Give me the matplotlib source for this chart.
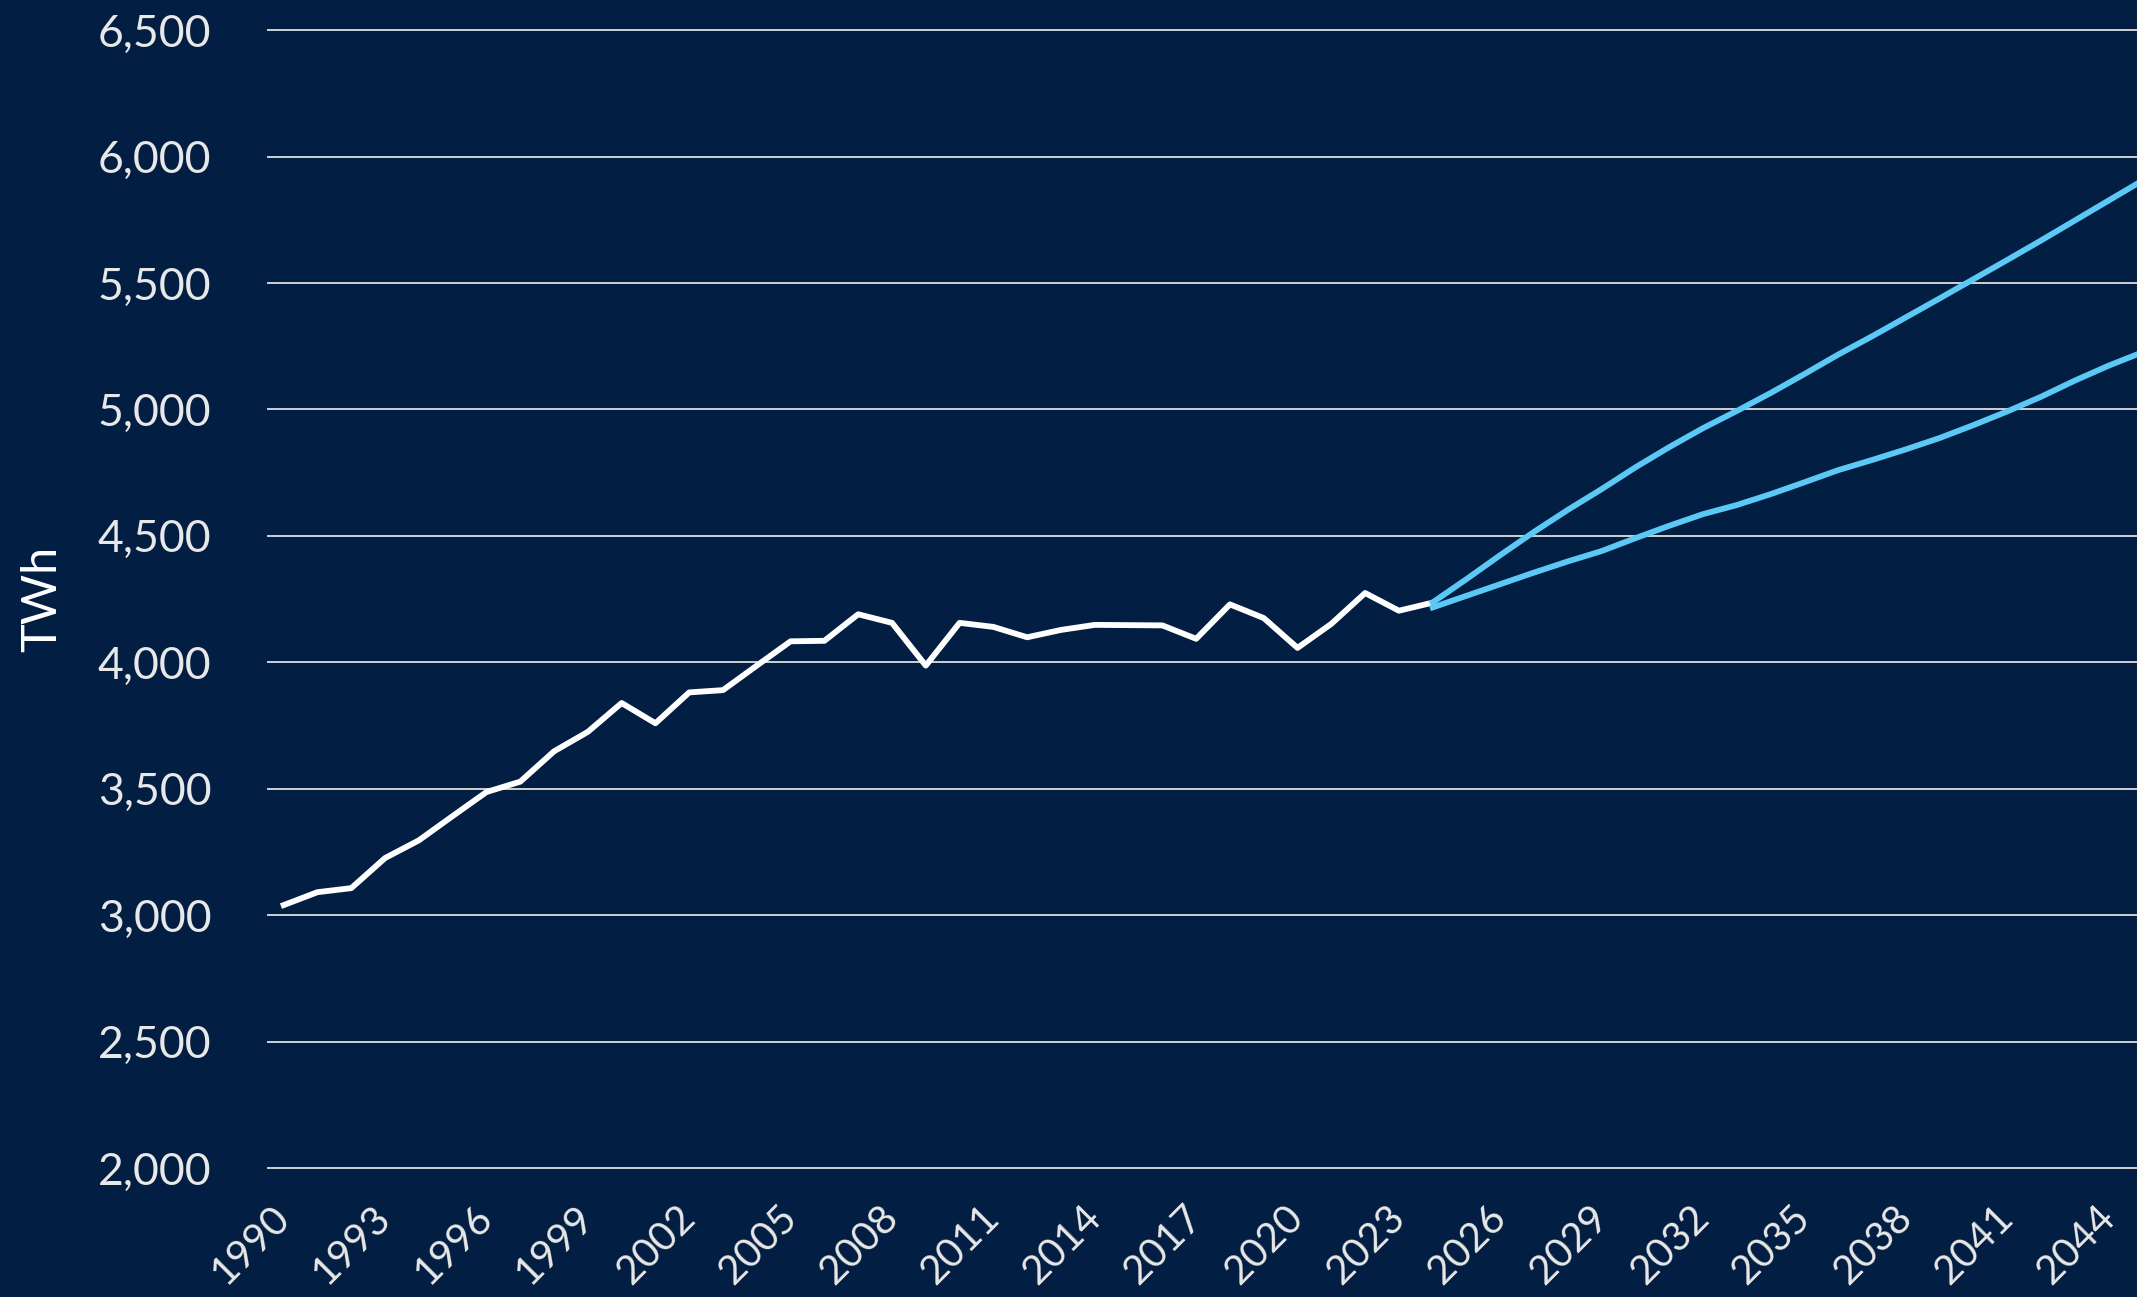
import numpy as np
import matplotlib.pyplot as plt

BG = '#021e42'
BLUE = '#5bc8f5'

hist_years = list(range(1990, 2025))
hist_twh = [3040, 3091, 3107, 3226, 3296, 3392, 3487, 3528, 3648, 3725,
            3839, 3759, 3881, 3890, 3987, 4083, 4085, 4190, 4156, 3987,
            4156, 4140, 4099, 4128, 4148, 4147, 4146, 4093, 4229, 4175,
            4057, 4152, 4274, 4204, 4236]

proj_years = list(range(2024, 2046))
proj_high = [4237, 4329, 4424, 4516, 4603, 4685, 4771, 4851, 4926, 4994,
             5065, 5140, 5217, 5289, 5364, 5439, 5515, 5591, 5668, 5747,
             5826, 5905]
proj_low = [4217, 4263, 4309, 4355, 4399, 4440, 4491, 4540, 4586, 4622,
            4665, 4712, 4760, 4800, 4842, 4887, 4938, 4992, 5050, 5114,
            5173, 5226]

xticks = list(range(1990, 2045, 3))
yticks = list(range(2000, 7000, 500))

plt.rcParams['font.family'] = ['Lato', 'DejaVu Sans']

fig = plt.figure(figsize=(21.37, 12.97), dpi=100, facecolor=BG)
ax = fig.add_axes([0.125, 0.0955, 0.875, 0.8852])
ax.set_facecolor(BG)

ax.plot(hist_years, hist_twh, color='white', lw=4.2, zorder=3)
ax.plot(proj_years, proj_high, color=BLUE, lw=4.2, zorder=3)
ax.plot(proj_years, proj_low, color=BLUE, lw=4.2, zorder=3)

ax.set_xlim(1989.51, 2044.84)
ax.set_ylim(1980, 6520)
ax.set_xticks(xticks)
ax.set_yticks(yticks)
ax.set_yticklabels(['{:,}'.format(v) for v in yticks])
ax.tick_params(length=0, colors='#e8e8e8', labelsize=32)
ax.tick_params(axis='x', labelsize=29, pad=28)
ax.tick_params(axis='y', pad=40)
for lab in ax.get_xticklabels():
    lab.set_rotation(45)
    lab.set_ha('right')
    lab.set_va('center')
    lab.set_rotation_mode('anchor')

ax.grid(axis='y', color='#d0d0d0', lw=1.4)
ax.set_axisbelow(True)
for s in ax.spines.values():
    s.set_visible(False)
ax.set_ylabel('TWh', color='white', fontsize=35, labelpad=24)

fig.savefig('out.png', dpi=100, facecolor=BG)
